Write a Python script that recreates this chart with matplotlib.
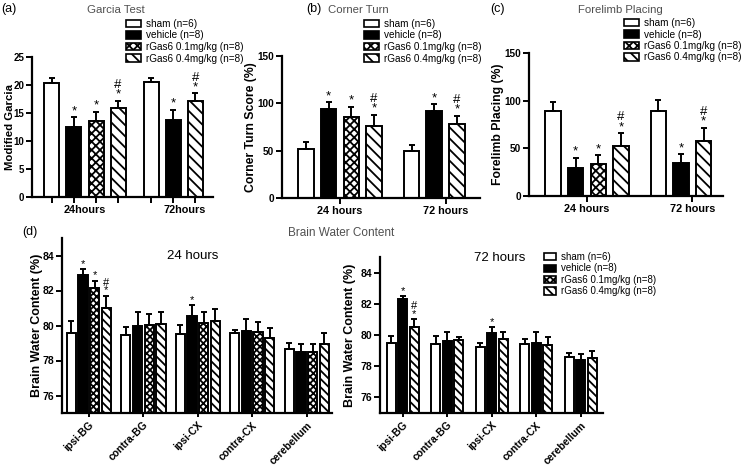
import numpy as np
import matplotlib
matplotlib.use('Agg')
import matplotlib.pyplot as plt
from matplotlib.patches import Patch

plt.rcParams['font.family'] = ['Liberation Sans', 'DejaVu Sans']
plt.rcParams['hatch.linewidth'] = 1.3
plt.rcParams['axes.linewidth'] = 1.6

# Treatment groups (legend)
groups = ['sham (n=6)', 'vehicle (n=8)', 'rGas6 0.1mg/kg (n=8)', 'rGas6 0.4mg/kg (n=8)']
# at 72 hours only sham, vehicle and 0.4mg/kg were tested
groups_72 = [0, 1, 3]

# (a) Garcia test
garcia_times = ['24hours', '72hours']
garcia_24 = [20.3, 12.5, 13.6, 15.9]
garcia_24_err = [0.9, 1.7, 1.6, 1.3]
garcia_24_sig = ['', '*', '*', '#\n*']
garcia_72 = [20.5, 13.8, 17.1]
garcia_72_err = [0.7, 1.8, 1.4]
garcia_72_sig = ['', '*', '#\n*']

# (b) Corner turn
behav_times = ['24 hours', '72 hours']
corner_24 = [51.6, 94.0, 86.0, 76.0]
corner_24_err = [8.0, 7.0, 10.5, 12.0]
corner_24_sig = ['', '*', '*', '#\n*']
corner_72 = [49.8, 92.3, 77.7]
corner_72_err = [6.6, 7.0, 9.4]
corner_72_sig = ['', '*', '#\n*']

# (c) Forelimb placing
forelimb_24 = [89.4, 29.4, 33.3, 52.0]
forelimb_24_err = [9.0, 10.6, 9.2, 14.0]
forelimb_24_sig = ['', '*', '*', '#\n*']
forelimb_72 = [89.4, 34.4, 57.4]
forelimb_72_err = [11.0, 9.2, 14.2]
forelimb_72_sig = ['', '*', '#\n*']

# (d) Brain water content, per region
regions = ['ipsi-BG', 'contra-BG', 'ipsi-CX', 'contra-CX', 'cerebellum']
bwc24_sham = [79.58, 79.43, 79.52, 79.58, 78.63]
bwc24_sham_err = [0.67, 0.48, 0.52, 0.19, 0.38]
bwc24_vehicle = [82.90, 79.96, 80.53, 79.66, 78.48]
bwc24_vehicle_err = [0.34, 0.84, 0.65, 0.72, 0.47]
bwc24_low = [82.13, 80.04, 80.13, 79.62, 78.51]
bwc24_low_err = [0.44, 0.63, 0.63, 0.57, 0.44]
bwc24_high = [80.99, 80.06, 80.23, 79.28, 78.95]
bwc24_high_err = [0.72, 0.74, 0.72, 0.57, 0.63]
bwc24_vehicle_sig = ['*', '', '*', '', '']
bwc24_low_sig = ['*', '', '', '', '']
bwc24_high_sig = ['#\n*', '', '', '', '']

bwc72_sham = [79.46, 79.44, 79.20, 79.44, 78.59]
bwc72_sham_err = [0.50, 0.50, 0.26, 0.28, 0.26]
bwc72_vehicle = [82.31, 79.63, 80.11, 79.50, 78.42]
bwc72_vehicle_err = [0.18, 0.58, 0.39, 0.72, 0.35]
bwc72_high = [80.54, 79.68, 79.74, 79.39, 78.55]
bwc72_high_err = [0.48, 0.22, 0.48, 0.46, 0.41]
bwc72_vehicle_sig = ['*', '', '*', '', '']
bwc72_high_sig = ['#\n*', '', '', '', '']

W, H = 744, 467
faces = ['white', 'black', 'white', 'white']


def hatches(dens):
    return [None, None, 'x' * (dens + 1), '\\' * dens]


def fx(px):
    return px / W


def fy(py):
    return 1 - py / H


def make_ax(fig, l, r, t, b, tick_fs=7.5):
    ax = fig.add_axes([fx(l), fy(b), fx(r) - fx(l), fy(t) - fy(b)])
    ax.spines['top'].set_visible(False)
    ax.spines['right'].set_visible(False)
    ax.tick_params(axis='y', direction='out', length=4, width=1.4, labelsize=tick_fs, pad=1.5)
    return ax


def draw_bar(ax, x, v, e, g, sig, width, dens, fs):
    ax.bar(x, v, width=width, color=faces[g], edgecolor='black', linewidth=1.4,
           hatch=hatches(dens)[g], zorder=2)
    ax.errorbar(x, v, yerr=[[0], [e]], fmt='none', ecolor='black', elinewidth=1.4,
                capsize=2.5, capthick=1.4, zorder=3)
    if sig:
        ax.text(x, v + e, sig, ha='center', va='bottom', fontsize=fs, linespacing=0.75)


def behaviour_panel(fig, box, v24, e24, s24, v72, e72, s72, ylim, yticks, ylabel,
                    times, gap, xlim, lab_x, per_bar_ticks, ylab_fs, tick_fs):
    ax = make_ax(fig, *box, tick_fs=tick_fs)
    x24 = np.arange(4)
    x72 = 4 + gap + np.arange(3)
    for i in range(4):
        draw_bar(ax, x24[i], v24[i], e24[i], i, s24[i], 0.68, 3, 9.5)
    for i, g in enumerate(groups_72):
        draw_bar(ax, x72[i], v72[i], e72[i], g, s72[i], 0.68, 3, 9.5)
    ax.set_ylim(*ylim)
    ax.set_yticks(yticks)
    ax.set_yticklabels([str(t) for t in yticks], fontweight='bold')
    ax.set_xlim(*xlim)
    centers = [1.5, 4 + gap + 1.5]
    if per_bar_ticks:
        ax.set_xticks(np.concatenate([x24, x72]))
        ax.set_xticklabels([])
        ax.set_xticks(centers, minor=True)
        ax.set_xticklabels(times, minor=True, fontweight='bold', fontsize=7.8)
        ax.tick_params(axis='x', which='major', length=4, width=1.4)
        ax.tick_params(axis='x', which='minor', length=0, pad=6)
    else:
        ax.set_xticks(centers)
        ax.set_xticklabels(times, fontweight='bold', fontsize=7.8)
        ax.tick_params(axis='x', length=4, width=1.4, pad=2)
    ax.set_ylabel(ylabel, fontweight='bold', fontsize=ylab_fs)
    ax.yaxis.set_label_coords((lab_x - box[0]) / (box[1] - box[0]), 0.5)
    return ax


def legend(ax, px, py, fs, hl, dens):
    handles = [Patch(facecolor=faces[g], edgecolor='black', linewidth=1.2,
                     hatch=hatches(dens)[g]) for g in range(4)]
    ax.legend(handles, groups, loc='upper left', bbox_to_anchor=(fx(px), fy(py)),
              bbox_transform=ax.figure.transFigure, frameon=False, fontsize=fs,
              handlelength=hl, handleheight=0.75, handletextpad=0.5,
              labelspacing=0.15, borderpad=0, borderaxespad=0)


fig = plt.figure(figsize=(W / 100, H / 100), dpi=100)

# (a)
ax_a = behaviour_panel(fig, (32, 213, 57, 197), garcia_24, garcia_24_err, garcia_24_sig,
                       garcia_72, garcia_72_err, garcia_72_sig, (0, 25), [0, 5, 10, 15, 20, 25],
                       'Modified Garcia', garcia_times, 0.5, (-0.9, 7.3), 15, True, 8.2, 7.0)
legend(ax_a, 126, 19, 7.2, 1.5, 3)

# (b)
ax_b = behaviour_panel(fig, (282, 480, 56, 198), corner_24, corner_24_err, corner_24_sig,
                       corner_72, corner_72_err, corner_72_sig, (0, 150), [0, 50, 100, 150],
                       'Corner Turn Score (%)', behav_times, 0.65, (-1.06, 7.67), 257, False,
                       8.8, 7.2)
legend(ax_b, 364, 19, 7.2, 1.5, 3)

# (c)
ax_c = behaviour_panel(fig, (529, 723, 53, 196), forelimb_24, forelimb_24_err, forelimb_24_sig,
                       forelimb_72, forelimb_72_err, forelimb_72_sig, (0, 150), [0, 50, 100, 150],
                       'Forelimb Placing (%)', behav_times, 0.65, (-1.06, 7.5), 504, False,
                       8.8, 7.2)
legend(ax_c, 624, 18, 7.2, 1.5, 3)

# (d) left: 24 hours
box_dl = (62, 332, 238, 413)
ax_dl = make_ax(fig, *box_dl)
step24 = 4.66
series24 = [(bwc24_sham, bwc24_sham_err, [''] * 5),
            (bwc24_vehicle, bwc24_vehicle_err, bwc24_vehicle_sig),
            (bwc24_low, bwc24_low_err, bwc24_low_sig),
            (bwc24_high, bwc24_high_err, bwc24_high_sig)]
for g, (vals, errs, sigs) in enumerate(series24):
    for r in range(len(regions)):
        draw_bar(ax_dl, r * step24 + g, vals[r], errs[r], g, sigs[r], 0.8, 4, 8)
ax_dl.set_ylim(75, 85)
ax_dl.set_xlim(-0.8, 22.3)
ax_dl.set_yticks([76, 78, 80, 82, 84])
ax_dl.set_yticklabels(['76', '78', '80', '82', '84'], fontweight='bold')
ax_dl.set_xticks([r * step24 + 1.5 for r in range(len(regions))])
ax_dl.set_xticklabels(regions, rotation=45, ha='right', rotation_mode='anchor',
                      fontweight='bold', fontsize=7.5)
ax_dl.tick_params(axis='x', length=3, width=1.4, pad=2)
ax_dl.set_ylabel('Brain Water Content (%)', fontweight='bold', fontsize=9)
ax_dl.yaxis.set_label_coords((43 - 62) / (332 - 62), 0.5)
ax_dl.text(fx(193), fy(256), '24 hours', transform=fig.transFigure, ha='center',
           va='center', fontsize=9.5)

# (d) right: 72 hours
box_dr = (380, 603, 257, 413)
ax_dr = make_ax(fig, *box_dr)
step72 = 3.87
series72 = [(0, bwc72_sham, bwc72_sham_err, [''] * 5),
            (1, bwc72_vehicle, bwc72_vehicle_err, bwc72_vehicle_sig),
            (3, bwc72_high, bwc72_high_err, bwc72_high_sig)]
for k, (g, vals, errs, sigs) in enumerate(series72):
    for r in range(len(regions)):
        draw_bar(ax_dr, r * step72 + k, vals[r], errs[r], g, sigs[r], 0.78, 4, 8)
ax_dr.set_ylim(75, 85)
ax_dr.set_xlim(-0.96, 18.4)
ax_dr.set_yticks([76, 78, 80, 82, 84])
ax_dr.set_yticklabels(['76', '78', '80', '82', '84'], fontweight='bold')
ax_dr.set_xticks([r * step72 + 1 for r in range(len(regions))])
ax_dr.set_xticklabels(regions, rotation=45, ha='right', rotation_mode='anchor',
                      fontweight='bold', fontsize=7.5)
ax_dr.tick_params(axis='x', length=3, width=1.4, pad=2)
ax_dr.set_ylabel('Brain Water Content (%)', fontweight='bold', fontsize=9)
ax_dr.yaxis.set_label_coords((356 - 380) / (603 - 380), 0.5)
ax_dr.text(fx(500), fy(258), '72 hours', transform=fig.transFigure, ha='center',
           va='center', fontsize=9.5)
legend(ax_dr, 544, 252, 7.0, 1.2, 4)

# titles and panel letters
grey = '#505050'
fig.text(fx(116), fy(10), 'Garcia Test', ha='center', va='center', fontsize=8.2, color=grey)
fig.text(fx(358), fy(10), 'Corner Turn', ha='center', va='center', fontsize=8.2, color=grey)
fig.text(fx(620), fy(10), 'Forelimb Placing', ha='center', va='center', fontsize=8.2, color=grey)
fig.text(fx(341), fy(233), 'Brain Water Content', ha='center', va='center', fontsize=8.5,
         color=grey)
for lab, px, py in [('(a)', 1, 9), ('(b)', 306, 9), ('(c)', 490, 9), ('(d)', 22, 232)]:
    fig.text(fx(px), fy(py), lab, ha='left', va='center', fontsize=9)

fig.savefig('out.png', dpi=100)
